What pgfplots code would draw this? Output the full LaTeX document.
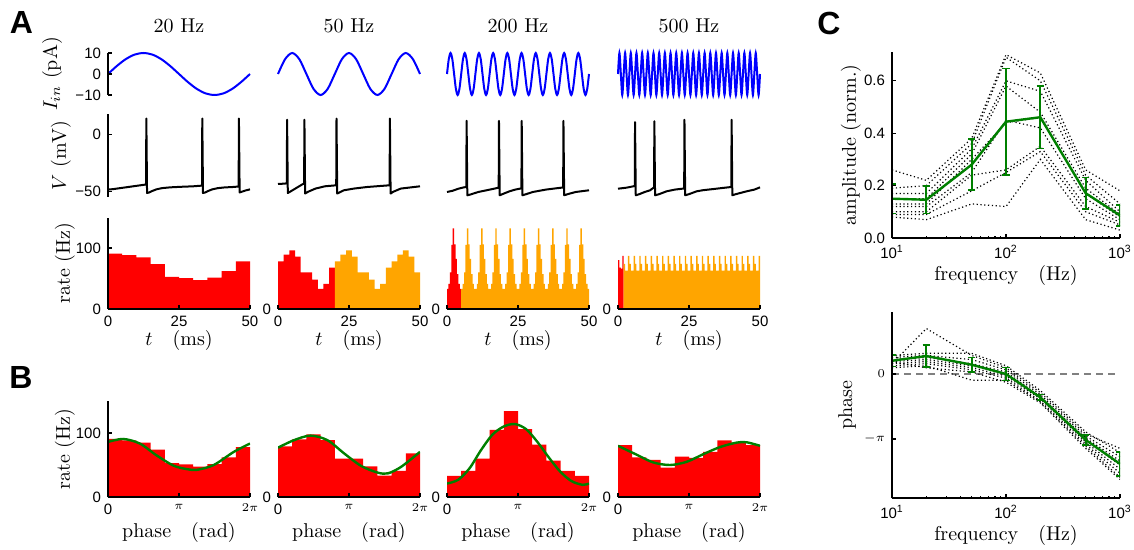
\documentclass[border=0pt]{standalone}
\usepackage{fontspec}
\usepackage{pgfplots}
\pgfplotsset{compat=1.18}
\newfontfamily\arial{Liberation Sans}
\newcommand{\tlf}{\arial\fontsize{7.5}{8}\selectfont}
\newcommand{\sm}{\fontsize{6.5}{7}\selectfont}
\definecolor{mplgreen}{rgb}{0,0.5,0}
\definecolor{mplorange}{rgb}{1,0.647,0}
\pgfplotsset{
  base/.style={scale only axis, width=71pt, axis on top,
    axis line style={-, line width=0.75pt, black},
    every tick/.style={black, line width=0.6pt},
    major tick length=2pt, minor tick length=1.2pt, tick align=inside,
    ticklabel style={font=\tlf},
    label style={font=\fontsize{10}{12}\selectfont},
    title style={font=\fontsize{10}{12}\selectfont, at={(0.5,1)}, anchor=base, yshift=4pt}},
  Arow/.style={base, xmin=0, xmax=50},
  curr/.style={Arow, height=21pt, ymin=-10, ymax=10, clip=false},
  volt/.style={Arow, height=41.5pt, ymin=-55, ymax=18, clip=false},
  rateA/.style={Arow, height=45.75pt, ymin=0, ymax=150, axis x line*=bottom, axis y line*=left,
    xtick={0,25,50}, xticklabels={0,25,50}, xlabel={$t\quad(\mathrm{ms})$},
    xlabel style={at={(axis description cs:0.5,-0.404)}, anchor=base}},
  rateB/.style={base, height=48pt, xmin=0, xmax=6.28319, ymin=0, ymax=150, axis x line*=bottom, axis y line*=left,
    xtick={0,3.14159,6.28319}, xticklabels={0,{\sm$\pi$},{\sm$2\pi$}}, xlabel={phase\quad(rad)},
    xlabel style={at={(axis description cs:0.5,-0.417)}, anchor=base}},
  noy/.style={y axis line style={draw=none}, ytick={0}, yticklabels={0}},
  dots/.style={black, line width=0.6pt, dash pattern=on 0.6pt off 1.3pt, mark=none},
}
\begin{document}
\begin{tikzpicture}
\useasboundingbox (0pt,0pt) rectangle (567pt,-275pt);
% ---------------- A: current ----------------
\begin{axis}[curr, at={(54pt,-47.5pt)}, anchor=south west, hide x axis, axis y line*=left,
  ytick={-10,0,10}, yticklabels={−10,0,10}, title={20 Hz},
  ylabel={$I_{in}\ (\mathrm{pA})$}, ylabel style={at={(axis description cs:-0.394,0.5)}, anchor=center}]
\addplot[blue, line width=1pt, smooth] coordinates {(0,0)(3.125,3.827)(6.25,7.071)(9.375,9.239)(12.5,10)(15.625,9.239)(18.75,7.071)(21.875,3.827)(25,0)(28.125,-3.827)(31.25,-7.071)(34.375,-9.239)(37.5,-10)(40.625,-9.239)(43.75,-7.071)(46.875,-3.827)(50,0)};
\end{axis}
\begin{axis}[curr, at={(139pt,-47.5pt)}, anchor=south west, hide x axis, hide y axis, title={50 Hz}]
\addplot[blue, line width=1pt, smooth] coordinates {(0,0)(2.5,7.071)(5,10)(7.5,7.071)(10,0)(12.5,-7.071)(15,-10)(17.5,-7.071)(20,0)(22.5,7.071)(25,10)(27.5,7.071)(30,0)(32.5,-7.071)(35,-10)(37.5,-7.071)(40,0)(42.5,7.071)(45,10)(47.5,7.071)(50,0)};
\end{axis}
\begin{axis}[curr, at={(223.5pt,-47.5pt)}, anchor=south west, hide x axis, hide y axis, title={200 Hz}]
\addplot[blue, line width=1pt, smooth] coordinates {
(0,0)(0.625,7.071)(1.25,10)(1.875,7.071)(2.5,0)(3.125,-7.071)(3.75,-10)(4.375,-7.071)
(5,0)(5.625,7.071)(6.25,10)(6.875,7.071)(7.5,0)(8.125,-7.071)(8.75,-10)(9.375,-7.071)
(10,0)(10.625,7.071)(11.25,10)(11.875,7.071)(12.5,0)(13.125,-7.071)(13.75,-10)(14.375,-7.071)
(15,0)(15.625,7.071)(16.25,10)(16.875,7.071)(17.5,0)(18.125,-7.071)(18.75,-10)(19.375,-7.071)
(20,0)(20.625,7.071)(21.25,10)(21.875,7.071)(22.5,0)(23.125,-7.071)(23.75,-10)(24.375,-7.071)
(25,0)(25.625,7.071)(26.25,10)(26.875,7.071)(27.5,0)(28.125,-7.071)(28.75,-10)(29.375,-7.071)
(30,0)(30.625,7.071)(31.25,10)(31.875,7.071)(32.5,0)(33.125,-7.071)(33.75,-10)(34.375,-7.071)
(35,0)(35.625,7.071)(36.25,10)(36.875,7.071)(37.5,0)(38.125,-7.071)(38.75,-10)(39.375,-7.071)
(40,0)(40.625,7.071)(41.25,10)(41.875,7.071)(42.5,0)(43.125,-7.071)(43.75,-10)(44.375,-7.071)
(45,0)(45.625,7.071)(46.25,10)(46.875,7.071)(47.5,0)(48.125,-7.071)(48.75,-10)(49.375,-7.071)
(50,0)};
\end{axis}
\begin{axis}[curr, at={(309pt,-47.5pt)}, anchor=south west, hide x axis, hide y axis, title={500 Hz}]
\addplot[blue, line width=1pt, smooth] coordinates {
(0,0)(0.5,10)(1,0)(1.5,-10)(2,0)(2.5,10)(3,0)(3.5,-10)(4,0)(4.5,10)(5,0)(5.5,-10)
(6,0)(6.5,10)(7,0)(7.5,-10)(8,0)(8.5,10)(9,0)(9.5,-10)(10,0)(10.5,10)(11,0)(11.5,-10)
(12,0)(12.5,10)(13,0)(13.5,-10)(14,0)(14.5,10)(15,0)(15.5,-10)(16,0)(16.5,10)(17,0)(17.5,-10)
(18,0)(18.5,10)(19,0)(19.5,-10)(20,0)(20.5,10)(21,0)(21.5,-10)(22,0)(22.5,10)(23,0)(23.5,-10)
(24,0)(24.5,10)(25,0)(25.5,-10)(26,0)(26.5,10)(27,0)(27.5,-10)(28,0)(28.5,10)(29,0)(29.5,-10)
(30,0)(30.5,10)(31,0)(31.5,-10)(32,0)(32.5,10)(33,0)(33.5,-10)(34,0)(34.5,10)(35,0)(35.5,-10)
(36,0)(36.5,10)(37,0)(37.5,-10)(38,0)(38.5,10)(39,0)(39.5,-10)(40,0)(40.5,10)(41,0)(41.5,-10)
(42,0)(42.5,10)(43,0)(43.5,-10)(44,0)(44.5,10)(45,0)(45.5,-10)(46,0)(46.5,10)(47,0)(47.5,-10)
(48,0)(48.5,10)(49,0)(49.5,-10)(50,0)};
\end{axis}
% ---------------- A: voltage ----------------
\begin{axis}[volt, at={(54pt,-98.5pt)}, anchor=south west, hide x axis, axis y line*=left,
  ytick={-50,0}, yticklabels={−50,0},
  ylabel={$V\ (\mathrm{mV})$}, ylabel style={at={(axis description cs:-0.331,0.5)}, anchor=center}]
\addplot[black, line width=1pt, line join=round] coordinates {(0,-48.5)(2,-48)(4,-47.3)(6,-46.6)(8,-45.9)(10,-45.2)(12,-44.5)(13.4,-44)(13.5,14)(13.75,-51.5)(14.5,-51)(15.5,-49.8)(17,-48.3)(19,-47.2)(22,-46.5)(26,-46)(30,-45.6)(33.1,-45)(33.2,14)(33.45,-51.5)(34.2,-51)(35.2,-49.8)(36.7,-48.3)(38.7,-47.2)(41,-46.6)(44,-46.2)(46,-45.8)(46.1,14)(46.35,-51)(47.2,-50.3)(48.5,-49.2)(50,-48.3)};
\end{axis}
\begin{axis}[volt, at={(139pt,-98.5pt)}, anchor=south west, hide x axis, hide y axis]
\addplot[black, line width=1pt, line join=round] coordinates {(0,-43.5)(2,-43.3)(3.1,-43)(3.2,13)(3.45,-51.5)(4.5,-50)(6.5,-47)(8.5,-44)(9.2,-43.2)(9.3,13)(9.55,-52)(10.5,-50.5)(13.2,-47.6)(16.5,-45.6)(20.5,-44.7)(20.6,14)(20.85,-52)(23.2,-49.1)(26.7,-47.6)(31.4,-46.2)(39.3,-44.7)(39.4,14)(39.65,-52)(40.5,-50.5)(43.2,-47.6)(50,-45.6)};
\end{axis}
\begin{axis}[volt, at={(223.5pt,-98.5pt)}, anchor=south west, hide x axis, hide y axis]
\addplot[black, line width=1pt, line join=round] coordinates {(0,-50.6)(2,-49.5)(4,-47.7)(6,-46.5)(6.8,-46.2)(6.9,12)(7.15,-53.5)(8,-53)(9.5,-51.8)(11,-50.6)(13.9,-49.1)(16,-48)(18.2,-46.8)(18.3,12)(18.55,-53.5)(19.5,-52.5)(22,-50)(24,-48.5)(26.2,-47.4)(26.3,12)(26.55,-53.5)(27.5,-52.8)(30.2,-50.6)(34.8,-48.5)(38,-47.5)(40.9,-46.6)(41,12)(41.25,-53.5)(42.5,-52.5)(45.3,-50.6)(50,-49.1)};
\end{axis}
\begin{axis}[volt, at={(309pt,-98.5pt)}, anchor=south west, hide x axis, hide y axis]
\addplot[black, line width=1pt, line join=round] coordinates {(0,-47.7)(3,-46.8)(5.4,-45.6)(5.9,-45.2)(6.0,10.8)(6.25,-53.5)(7.5,-52.5)(9.5,-50.5)(11.3,-49.1)(12.7,-46.5)(12.8,11.7)(13.05,-53.5)(14.5,-52.5)(17.1,-50)(20,-48.5)(23.3,-47.5)(23.4,12.9)(23.65,-53.5)(25,-52.5)(27.7,-50)(30,-49)(33.6,-48)(37,-47)(39.9,-46.2)(40.0,12.9)(40.25,-53.5)(41.5,-52.5)(45.3,-50)(48,-48.5)(50,-46.5)};
\end{axis}
% ---------------- A: rate ----------------
\begin{axis}[rateA, at={(54pt,-154.5pt)}, anchor=south west, ytick={0,100}, yticklabels={0,100},
  ylabel={rate (Hz)}, ylabel style={at={(axis description cs:-0.303,0.5)}, anchor=center}]
\addplot[const plot, fill=red, draw=none] coordinates {(0,90.7)(5,88.5)(10,84.6)(15,73.6)(20,52.7)(25,50.5)(30,47.3)(35,51.6)(40,62)(45,78)(50,78)} \closedcycle;
\end{axis}
\begin{axis}[rateA, noy, at={(139pt,-154.5pt)}, anchor=south west]
\addplot[const plot, fill=red, draw=none] coordinates {(0,78)(2,89)(4,96)(6,86)(8,60)(10,60)(12,48)(14,33)(16,41)(18,68)(20,68)} \closedcycle;
\addplot[const plot, fill=mplorange, draw=none] coordinates {(20,78)(22,89)(24,96)(26,86)(28,60)(30,60)(32,48)(34,33)(36,41)(38,68)(40,78)(42,89)(44,96)(46,86)(48,60)(50,60)} \closedcycle;
\end{axis}
\begin{axis}[rateA, noy, at={(223.5pt,-154.5pt)}, anchor=south west]
\addplot[const plot, fill=red, draw=none] coordinates {(0,33)(0.5,41)(1,60)(1.5,105)(2,132)(2.5,106)(3,82)(3.5,57)(4,41)(4.5,33)(5,33)} \closedcycle;
\addplot[const plot, fill=mplorange, draw=none] coordinates {
(5,33)(5.5,41)(6,60)(6.5,105)(7,132)(7.5,106)(8,82)(8.5,57)(9,41)(9.5,33)
(10,33)(10.5,41)(11,60)(11.5,105)(12,132)(12.5,106)(13,82)(13.5,57)(14,41)(14.5,33)
(15,33)(15.5,41)(16,60)(16.5,105)(17,132)(17.5,106)(18,82)(18.5,57)(19,41)(19.5,33)
(20,33)(20.5,41)(21,60)(21.5,105)(22,132)(22.5,106)(23,82)(23.5,57)(24,41)(24.5,33)
(25,33)(25.5,41)(26,60)(26.5,105)(27,132)(27.5,106)(28,82)(28.5,57)(29,41)(29.5,33)
(30,33)(30.5,41)(31,60)(31.5,105)(32,132)(32.5,106)(33,82)(33.5,57)(34,41)(34.5,33)
(35,33)(35.5,41)(36,60)(36.5,105)(37,132)(37.5,106)(38,82)(38.5,57)(39,41)(39.5,33)
(40,33)(40.5,41)(41,60)(41.5,105)(42,132)(42.5,106)(43,82)(43.5,57)(44,41)(44.5,33)
(45,33)(45.5,41)(46,60)(46.5,105)(47,132)(47.5,106)(48,82)(48.5,57)(49,41)(49.5,33)
(50,33)} \closedcycle;
\end{axis}
\begin{axis}[rateA, noy, at={(309pt,-154.5pt)}, anchor=south west]
\addplot[const plot, fill=red, draw=none] coordinates {(0,80)(0.5,68)(1,66)(1.5,87)(2,87)} \closedcycle;
\addplot[const plot, fill=mplorange, draw=none] coordinates {
(2,74)(2.5,63)(3,63)(3.5,87)(4,74)(4.5,63)(5,63)(5.5,87)(6,74)(6.5,63)(7,63)(7.5,87)
(8,74)(8.5,63)(9,63)(9.5,87)(10,74)(10.5,63)(11,63)(11.5,87)(12,74)(12.5,63)(13,63)(13.5,87)
(14,74)(14.5,63)(15,63)(15.5,87)(16,74)(16.5,63)(17,63)(17.5,87)(18,74)(18.5,63)(19,63)(19.5,87)
(20,74)(20.5,63)(21,63)(21.5,87)(22,74)(22.5,63)(23,63)(23.5,87)(24,74)(24.5,63)(25,63)(25.5,87)
(26,74)(26.5,63)(27,63)(27.5,87)(28,74)(28.5,63)(29,63)(29.5,87)(30,74)(30.5,63)(31,63)(31.5,87)
(32,74)(32.5,63)(33,63)(33.5,87)(34,74)(34.5,63)(35,63)(35.5,87)(36,74)(36.5,63)(37,63)(37.5,87)
(38,74)(38.5,63)(39,63)(39.5,87)(40,74)(40.5,63)(41,63)(41.5,87)(42,74)(42.5,63)(43,63)(43.5,87)
(44,74)(44.5,63)(45,63)(45.5,87)(46,74)(46.5,63)(47,63)(47.5,87)(48,74)(48.5,63)(49,63)(49.5,87)
(50,87)} \closedcycle;
\end{axis}
% ---------------- B ----------------
\begin{axis}[rateB, at={(54pt,-248.5pt)}, anchor=south west, ytick={0,100}, yticklabels={0,100},
  ylabel={rate (Hz)}, ylabel style={at={(axis description cs:-0.303,0.5)}, anchor=center}]
\addplot[const plot, fill=red, draw=none] coordinates {(0,91)(0.62832,88.5)(1.25664,85)(1.88496,74)(2.51327,53)(3.14159,51)(3.76991,47.5)(4.39823,51.5)(5.02655,62)(5.65487,78)(6.28319,78)} \closedcycle;
\addplot[mplgreen, line width=1.2pt, smooth] coordinates {(0,86)(0.67,90.7)(1.41,83.5)(2.15,65)(2.9,49)(3.5,43.5)(3.94,42.5)(4.68,50)(5.57,70.6)(6.28319,83.5)};
\end{axis}
\begin{axis}[rateB, noy, at={(139pt,-248.5pt)}, anchor=south west]
\addplot[const plot, fill=red, draw=none] coordinates {(0,79)(0.62832,90)(1.25664,98)(1.88496,89)(2.51327,60)(3.14159,60)(3.76991,48)(4.39823,33.5)(5.02655,41)(5.65487,68)(6.28319,68)} \closedcycle;
\addplot[mplgreen, line width=1.2pt, smooth] coordinates {(0,77)(0.70,88.7)(1.44,95.9)(2.19,88.7)(2.93,68)(3.68,48.5)(4.42,38)(4.87,37)(5.46,47.4)(6.28319,70.6)};
\end{axis}
\begin{axis}[rateB, noy, at={(223.5pt,-248.5pt)}, anchor=south west]
\addplot[const plot, fill=red, draw=none] coordinates {(0,33)(0.62832,41)(1.25664,60)(1.88496,105)(2.51327,134)(3.14159,106)(3.76991,82)(4.39823,57)(5.02655,41)(5.65487,33)(6.28319,33)} \closedcycle;
\addplot[mplgreen, line width=1.2pt, smooth] coordinates {(0,21)(0.5,27)(1.0,45)(1.5,73)(2.0,97)(2.5,110)(3.0,114)(3.5,106)(4.0,86)(4.5,62)(5.0,40)(5.5,25)(6.0,19)(6.28319,21)};
\end{axis}
\begin{axis}[rateB, noy, at={(309pt,-248.5pt)}, anchor=south west]
\addplot[const plot, fill=red, draw=none] coordinates {(0,81)(0.62832,62)(1.25664,58)(1.88496,46)(2.51327,63)(3.14159,61)(3.76991,70.5)(4.39823,88.6)(5.02655,85)(5.65487,81)(6.28319,81)} \closedcycle;
\addplot[mplgreen, line width=1.2pt, smooth] coordinates {(0,80)(0.83,66)(1.56,54)(2.30,50)(3.04,55)(3.78,67)(4.51,78)(5.25,85)(5.69,85.5)(6.28319,80)};
\end{axis}
% ---------------- C: amplitude ----------------
\begin{axis}[base, width=114pt, height=93pt, at={(446pt,-119pt)}, anchor=south west,
  xmode=log, xmin=10, xmax=1000, ymin=0, ymax=0.71, axis x line*=bottom, axis y line*=left,
  xtick={10,100,1000}, xticklabels={10\textsuperscript{1},10\textsuperscript{2},10\textsuperscript{3}},
  ytick={0,0.2,0.4,0.6}, yticklabels={0.0,0.2,0.4,0.6},
  xlabel={frequency\quad(Hz)}, xlabel style={at={(axis description cs:0.5,-0.226)}, anchor=base},
  ylabel={amplitude (norm.)}, ylabel style={at={(axis description cs:-0.18,0.5)}, anchor=center}]
\addplot[dots] coordinates {(10,0.26)(20,0.22)(50,0.38)(100,0.70)(200,0.63)(500,0.26)(1000,0.18)};
\addplot[dots] coordinates {(10,0.19)(20,0.20)(50,0.36)(100,0.69)(200,0.60)(500,0.24)(1000,0.13)};
\addplot[dots] coordinates {(10,0.17)(20,0.17)(50,0.34)(100,0.60)(200,0.56)(500,0.22)(1000,0.10)};
\addplot[dots] coordinates {(10,0.15)(20,0.15)(50,0.32)(100,0.58)(200,0.48)(500,0.19)(1000,0.09)};
\addplot[dots] coordinates {(10,0.13)(20,0.13)(50,0.30)(100,0.44)(200,0.46)(500,0.17)(1000,0.08)};
\addplot[dots] coordinates {(10,0.12)(20,0.12)(50,0.25)(100,0.45)(200,0.42)(500,0.15)(1000,0.07)};
\addplot[dots] coordinates {(10,0.10)(20,0.10)(50,0.24)(100,0.26)(200,0.35)(500,0.12)(1000,0.06)};
\addplot[dots] coordinates {(10,0.09)(20,0.09)(50,0.18)(100,0.25)(200,0.33)(500,0.10)(1000,0.05)};
\addplot[dots] coordinates {(10,0.08)(20,0.07)(50,0.13)(100,0.12)(200,0.30)(500,0.07)(1000,0.03)};
\addplot[mplgreen, line width=1.2pt, solid, mark=none,
  error bars/.cd, y dir=both, y explicit, error bar style={line width=1pt, mplgreen, solid},
  error mark options={rotate=90, mark size=1.8pt, line width=0.8pt, mplgreen, solid}]
  coordinates {(10,0.150) +- (0,0.057) (20,0.146) +- (0,0.052) (50,0.280) +- (0,0.097) (100,0.444) +- (0,0.203) (200,0.461) +- (0,0.12) (500,0.171) +- (0,0.06) (1000,0.086) +- (0,0.04)};
\end{axis}
% ---------------- C: phase ----------------
\begin{axis}[base, width=114pt, height=93pt, at={(446pt,-249pt)}, anchor=south west,
  xmode=log, xmin=10, xmax=1000, ymin=-6, ymax=3, axis x line*=bottom, axis y line*=left,
  xtick={10,100,1000}, xticklabels={10\textsuperscript{1},10\textsuperscript{2},10\textsuperscript{3}},
  ytick={-3.14159,0}, yticklabels={{\sm$-\pi$},{\sm$0$}},
  xlabel={frequency\quad(Hz)}, xlabel style={at={(axis description cs:0.5,-0.231)}, anchor=base},
  ylabel={phase}, ylabel style={at={(axis description cs:-0.197,0.5)}, anchor=center}]
\addplot[gray, line width=0.6pt, dash pattern=on 3.5pt off 2.5pt] coordinates {(10,0)(1000,0)};
\addplot[dots] coordinates {(10,0.5)(20,2.2)(50,0.9)(100,0.3)(200,-0.9)(500,-2.9)(1000,-3.6)};
\addplot[dots] coordinates {(10,0.9)(20,1.0)(50,1.0)(100,0.4)(200,-0.8)(500,-2.8)(1000,-3.8)};
\addplot[dots] coordinates {(10,0.8)(20,0.9)(50,0.7)(100,0.2)(200,-1.0)(500,-3.0)(1000,-4.0)};
\addplot[dots] coordinates {(10,0.7)(20,0.8)(50,0.5)(100,0.1)(200,-1.1)(500,-3.1)(1000,-4.2)};
\addplot[dots] coordinates {(10,0.6)(20,0.7)(50,0.4)(100,0.0)(200,-1.15)(500,-3.2)(1000,-4.4)};
\addplot[dots] coordinates {(10,0.5)(20,0.6)(50,0.3)(100,-0.1)(200,-1.2)(500,-3.3)(1000,-4.6)};
\addplot[dots] coordinates {(10,0.4)(20,0.5)(50,0.2)(100,-0.2)(200,-1.3)(500,-3.4)(1000,-4.8)};
\addplot[dots] coordinates {(10,0.3)(20,0.4)(50,-0.3)(100,-0.3)(200,-1.35)(500,-3.5)(1000,-5.0)};
\addplot[dots] coordinates {(10,0.6)(20,0.3)(50,0.1)(100,-0.4)(200,-1.4)(500,-3.6)(1000,-5.1)};
\addplot[mplgreen, line width=1.2pt, solid, mark=none,
  error bars/.cd, y dir=both, y explicit, error bar style={line width=1pt, mplgreen, solid},
  error mark options={rotate=90, mark size=1.8pt, line width=0.8pt, mplgreen, solid}]
  coordinates {(10,0.64) +- (0,0.27) (20,0.87) +- (0,0.54) (50,0.45) +- (0,0.34) (100,0.0) +- (0,0.32) (200,-1.13) +- (0,0.14) (500,-3.19) +- (0,0.24) (1000,-4.35) +- (0,0.58)};
\end{axis}
% ---------------- panel letters ----------------
\node[font=\arial\bfseries\fontsize{16}{16}\selectfont] at (10.75pt,-11.25pt) {A};
\node[font=\arial\bfseries\fontsize{16}{16}\selectfont] at (10.5pt,-188.5pt) {B};
\node[font=\arial\bfseries\fontsize{16}{16}\selectfont] at (414.5pt,-11.5pt) {C};
\end{tikzpicture}
\end{document}
